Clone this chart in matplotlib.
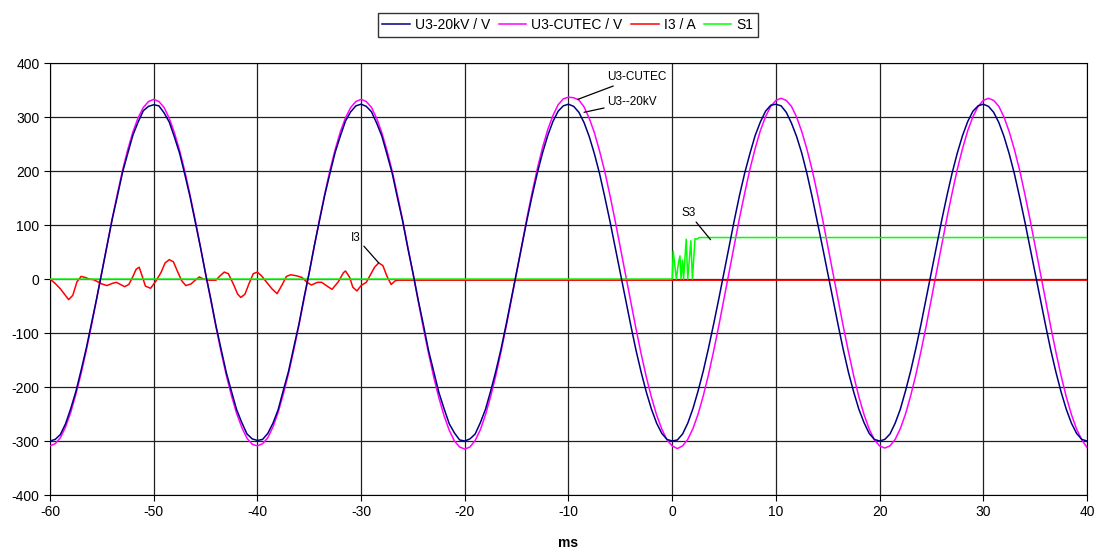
import numpy as np
import matplotlib
matplotlib.use("Agg")
import matplotlib.pyplot as plt

plt.rcParams['font.family'] = ['Liberation Sans', 'DejaVu Sans']
plt.rcParams['axes.unicode_minus'] = False

# time grid for the voltage traces, ms (0.5 ms steps)
t_u = np.arange(-60, 40.001, 0.5)

u3_20kv = [
    -300, -297, -288, -268, -240, -208, -169, -128, -82, -36, 13, 61, 111, 154, 198, 233, 267, 291, 312, 320,
    323, 321, 308, 291, 263, 233, 194, 153, 106, 60, 10, -36, -86, -130, -173, -208, -242, -266, -287, -296,
    -299, -297, -286, -267, -242, -206, -171, -127, -84, -34, 12, 63, 109, 156, 196, 235, 265, 293, 310, 321,
    324, 320, 310, 289, 265, 231, 196, 151, 108, 58, 12, -38, -84, -132, -171, -210, -240, -268, -285, -298,
    -300, -296, -287, -266, -241, -207, -170, -129, -83, -35, 14, 62, 110, 155, 197, 234, 266, 292, 311, 321,
    324, 320, 309, 290, 264, 232, 195, 152, 107, 59, 11, -37, -85, -131, -172, -209, -241, -267, -286, -297,
    -300, -298, -287, -267, -240, -207, -170, -128, -83, -36, 13, 61, 110, 156, 197, 233, 266, 291, 311, 322,
    324, 321, 309, 289, 264, 233, 195, 152, 106, 59, 11, -36, -85, -131, -173, -209, -241, -266, -286, -297,
    -300, -297, -287, -267, -241, -207, -170, -128, -83, -35, 13, 62, 110, 155, 197, 234, 266, 292, 311, 321,
    324, 320, 309, 290, 264, 232, 195, 152, 107, 59, 11, -37, -85, -131, -172, -209, -241, -267, -286, -297,
    -300,
]

u3_cutec = [
    -309, -305, -294, -274, -247, -213, -175, -132, -86, -37, 12, 62, 112, 158, 202, 240, 273, 299, 318, 329,
    333, 329, 318, 298, 271, 238, 200, 156, 110, 60, 11, -39, -88, -135, -178, -216, -249, -275, -295, -306,
    -309, -305, -294, -274, -247, -213, -175, -132, -86, -37, 12, 62, 112, 158, 202, 240, 273, 299, 318, 329,
    333, 329, 318, 298, 271, 238, 200, 156, 110, 60, 10, -40, -90, -137, -181, -220, -253, -280, -300, -311,
    -315, -311, -299, -279, -251, -217, -178, -134, -87, -38, 12, 63, 114, 161, 205, 244, 277, 303, 323, 334,
    337, 336, 332, 319, 298, 271, 237, 199, 155, 108, 58, 8, -42, -91, -138, -181, -219, -252, -278, -298,
    -309, -314, -309, -297, -277, -250, -216, -177, -133, -86, -36, 13, 64, 114, 160, 204, 242, 275, 301, 320,
    331, 335, 331, 320, 300, 273, 240, 202, 158, 111, 61, 12, -38, -88, -135, -179, -218, -251, -278, -298,
    -309, -313, -309, -297, -277, -250, -216, -177, -133, -86, -36, 13, 64, 114, 160, 204, 242, 275, 301, 320,
    331, 335, 331, 320, 300, 273, 240, 202, 158, 111, 61, 12, -38, -88, -135, -179, -218, -251, -278, -298,
    -312,
]

# current I3
t_i3 = [-60, -59.5, -59, -58.6, -58.2, -57.8, -57.4, -57.0, -56.6, -56.2, -55.8, -55.4, -55.0, -54.5, -54.0,
        -53.6, -53.2, -52.8, -52.4, -52.0, -51.7, -51.4, -51.1, -50.8, -50.3, -49.8, -49.3, -48.9, -48.5, -48.1,
        -47.7, -47.3, -46.9, -46.4, -46.0, -45.6, -45.2, -44.6, -44.0, -43.6, -43.2, -42.8, -42.3, -41.9, -41.6,
        -41.2, -40.8, -40.4, -40.0, -39.6, -39.1, -38.6, -38.1, -37.6, -37.2, -36.8, -36.2, -35.7, -35.2, -34.8,
        -34.2, -33.8, -33.2, -32.8, -32.2, -31.7, -31.5, -31.1, -30.8, -30.4, -30.0, -29.5, -29.1, -28.7, -28.3,
        -27.9, -27.5, -27.1, -26.7, -26.4, -25.0, 40]
i3 = [0, -8, -18, -28, -38, -30, -5, 5, 3, 0, -1, -5, -9, -12, -8,
      -6, -10, -14, -10, 5, 18, 22, 5, -13, -17, -4, 12, 30, 36, 32,
      14, -3, -12, -9, -2, 4, 0, -2, -2, 6, 13, 10, -10, -28, -34,
      -28, -8, 10, 13, 6, -6, -18, -27, -10, 5, 8, 6, 3, -6, -11,
      -6, -6, -14, -19, -5, 12, 15, 3, -15, -22, -12, -6, 8, 22, 30,
      25, 5, -10, -3, -2, -2, -2]

# switch signal S1
t_s1 = [-60, 0.0, 0.1, 0.4, 0.6, 0.75, 0.85, 1.0, 1.1, 1.35, 1.5, 1.8, 1.95, 2.2, 2.4, 2.6, 40]
s1 = [0, 0, 52, 0, 30, 43, 0, 35, 0, 74, 0, 71, 0, 75, 74, 77, 77]

fig = plt.figure(figsize=(10.94, 5.48), dpi=100)
ax = fig.add_axes([0.0457, 0.0967, 0.9479, 0.788])

ax.plot(t_u, u3_20kv, color='#000080', lw=1.1, label='U3-20kV / V', zorder=4)
ax.plot(t_u, u3_cutec, color='#FF00FF', lw=1.1, label='U3-CUTEC / V', zorder=3)
ax.plot(t_i3, i3, color='#FF0000', lw=1.1, label='I3 / A', zorder=3)
ax.plot(t_s1, s1, color='#00FF00', lw=1.1, label='S1', zorder=3)

ax.set_xlim(-60, 40)
ax.set_ylim(-400, 400)
ax.set_xticks(range(-60, 41, 10))
ax.set_yticks(range(-400, 401, 100))
ax.grid(True, color='#202020', lw=0.9)
ax.set_axisbelow(True)
for s in ax.spines.values():
    s.set_color('black')
ax.tick_params(labelsize=10, length=4, direction='out')
ax.set_xlabel('ms', fontsize=10, fontweight='bold', labelpad=12)

arr = dict(arrowstyle='-', color='black', lw=0.9, shrinkA=0, shrinkB=0)
ax.annotate('U3-CUTEC', xy=(-9.1, 333), xytext=(-6.3, 374), fontsize=8.5,
            va='center', ha='left', arrowprops=arr)
ax.annotate('U3--20kV', xy=(-8.5, 309), xytext=(-6.3, 328), fontsize=8.5,
            va='center', ha='left', arrowprops=arr)
ax.annotate('S3', xy=(3.7, 73), xytext=(2.3, 122), fontsize=8.5,
            va='center', ha='right', arrowprops=arr)
ax.annotate('I3', xy=(-28.3, 30), xytext=(-30.0, 77), fontsize=8.5,
            va='center', ha='right', arrowprops=arr)

leg = fig.legend(loc='center', bbox_to_anchor=(0.519, 0.954), ncol=4, fontsize=10,
                 frameon=True, fancybox=False, handlelength=2.0, columnspacing=0.6,
                 handletextpad=0.35, borderpad=0.35)
leg.get_frame().set_edgecolor('black')
leg.get_frame().set_linewidth(1.0)

fig.savefig('out.png', dpi=100)
